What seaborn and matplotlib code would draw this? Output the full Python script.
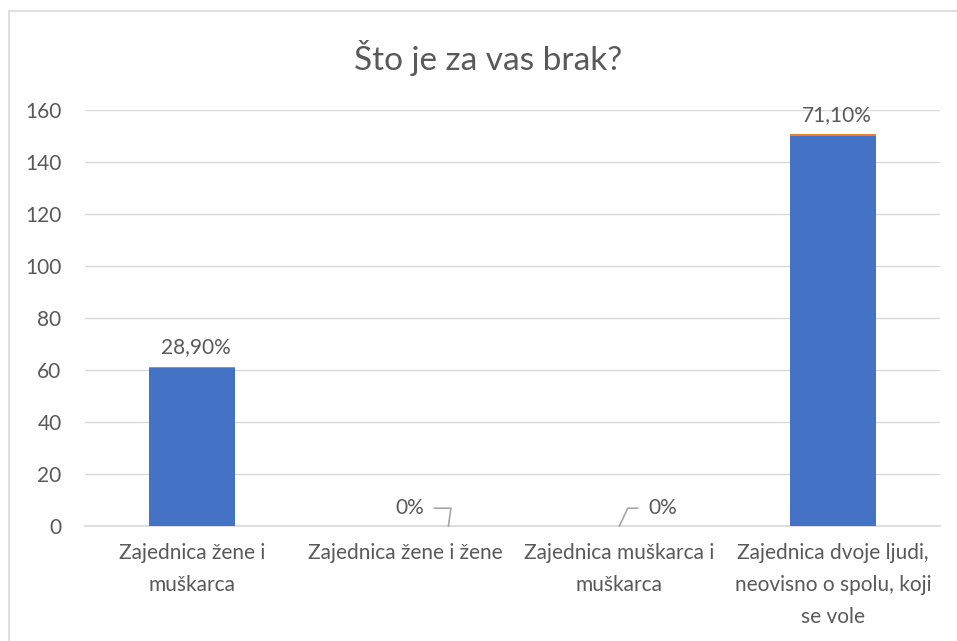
import pandas as pd
import matplotlib
matplotlib.use('Agg')
import matplotlib.pyplot as plt
import seaborn as sns
from matplotlib.patches import Rectangle

# Podaci s grafa
kategorije = ['Zajednica žene i\nmuškarca', 'Zajednica žene i žene',
              'Zajednica muškarca i\nmuškarca',
              'Zajednica dvoje ljudi,\nneovisno o spolu, koji\nse vole']
broj = [61, 0, 0, 150]
postotak = [0.289, 0.0, 0.0, 0.711]
oznake = ['28,90%', '0%', '0%', '71,10%']

df = pd.DataFrame({'kategorija': kategorije, 'broj': broj, 'postotak': postotak})
df['ukupno'] = df['broj'] + df['postotak']

sns.set_theme(style='white')
plt.rcParams['font.family'] = ['Lato', 'DejaVu Sans']

siva = '#595959'
fig = plt.figure(figsize=(9.57, 6.41), dpi=100)
ax = fig.add_axes([0.089, 0.179, 0.893, 0.649])

# naslagani stupci: narančasti (postotak) ispod plavog
sns.barplot(data=df, x='kategorija', y='ukupno', color='#ED7D31', width=0.4,
            saturation=1, linewidth=0, edgecolor='none', ax=ax)
sns.barplot(data=df, x='kategorija', y='broj', color='#4472C4', width=0.4,
            saturation=1, linewidth=0, edgecolor='none', ax=ax)

ax.set_ylim(0, 160)
ax.set_yticks(range(0, 161, 20))
ax.set_xlim(-0.5, 3.5)
ax.yaxis.grid(True, color='#D9D9D9', linewidth=1)
ax.set_axisbelow(True)
for s in ['left', 'right', 'top']:
    ax.spines[s].set_visible(False)
ax.spines['bottom'].set_color('#D9D9D9')
ax.spines['bottom'].set_zorder(0)
ax.tick_params(axis='y', length=0, pad=17, labelsize=15, labelcolor=siva)
ax.tick_params(axis='x', length=0, pad=12, labelsize=15, labelcolor=siva)
for t in ax.get_xticklabels():
    t.set_linespacing(1.75)
ax.set_xlabel('')
ax.set_ylabel('')

# oznake podataka
for i in range(len(kategorije)):
    if df['broj'][i] > 0:
        ax.annotate(oznake[i], (i, df['ukupno'][i]), xytext=(3, 7),
                    textcoords='offset points', ha='center', va='bottom',
                    fontsize=15, color=siva)

# 0% oznake s linijama
ax.annotate(oznake[1], (1.2, 0), xytext=(-28, 13), textcoords='offset points',
            ha='center', va='center', fontsize=15, color=siva,
            arrowprops=dict(arrowstyle='-', color='#A6A6A6', lw=1.2,
                            shrinkA=5, shrinkB=0,
                            connectionstyle='angle,angleA=0,angleB=82'))
ax.annotate(oznake[2], (2.0, 0), xytext=(31, 13), textcoords='offset points',
            ha='center', va='center', fontsize=15, color=siva,
            arrowprops=dict(arrowstyle='-', color='#A6A6A6', lw=1.2,
                            shrinkA=5, shrinkB=0,
                            connectionstyle='angle,angleA=0,angleB=65'))

fig.suptitle('Što je za vas brak?', fontsize=24, color=siva, x=0.51, y=0.938)

# okvir grafikona
fig.patches.append(Rectangle((9 / 957, -0.1), 1.1, 1 - 11 / 641 + 0.1,
                             transform=fig.transFigure, fill=False,
                             edgecolor='#D9D9D9', linewidth=1.2))

fig.savefig('out.png', dpi=100)
